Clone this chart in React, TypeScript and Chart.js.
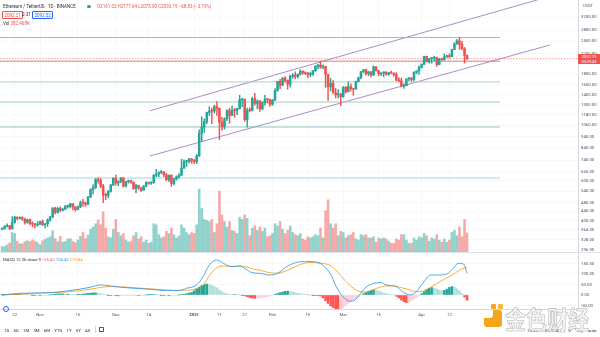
import React, { useEffect, useRef } from 'react';
import { Chart, registerables } from 'chart.js';
Chart.register(...registerables);

// day 0 = 2020-11-01, first candle = 2020-10-17
const FIRST_DAY = -15;
const FIRST_OPEN = 366;

const closes = [
  368,377,379,368,392,414,409,412,406,393,404,388,386,382,386,
  396,383,387,402,415,454,435,453,444,449,462,462,475,460,448,460,481,479,472,509,549,560,608,603,568,518,517,538,575,616,
  587,598,616,569,596,601,592,555,573,560,545,568,590,586,589,636,642,654,658,638,608,635,583,612,626,636,683,731,731,751,737,
  730,774,976,1042,1100,1208,1225,1224,1281,1262,1090,1043,1131,1230,1171,1233,1230,1257,1377,1382,1121,1236,1232,1391,1324,1357,1253,1332,1382,1377,1314,
  1370,1511,1660,1594,1718,1677,1613,1750,1768,1744,1784,1843,1814,1800,1779,1781,1848,1937,1960,1919,1935,1781,1570,1626,1475,1446,1459,1417,
  1564,1492,1576,1541,1533,1655,1724,1834,1868,1795,1826,1772,1924,1854,1792,1806,1823,1783,1811,1806,1783,1681,1668,1582,1587,1700,1715,1691,1820,1846,1918,
  1977,2143,2028,2093,2107,2117,1971,2088,2072,2136,2157,2139,2299,2432,2514,2422,2315,2161.02,2092.19
];
const highs = [
  371,380,387,381,417,418,415,416,416,410,406,406,395,389,396,
  398,403,389,407,418,457,459,458,460,454,467,470,477,476,460,465,489,497,483,512,553,576,615,620,615,580,528,545,579,620,
  636,600,622,622,598,605,605,594,580,575,560,572,596,592,595,640,676,658,667,659,649,638,640,616,632,647,749,745,740,755,755,
  748,787,1012,1155,1132,1212,1280,1262,1300,1349,1263,1150,1145,1245,1260,1290,1260,1260,1440,1395,1385,1262,1265,1412,1470,1375,1367,1350,1440,1390,1386,
  1380,1540,1663,1695,1725,1741,1685,1770,1800,1828,1795,1870,1847,1830,1820,1825,1859,1950,1975,2042,1965,1939,1785,1711,1672,1542,1525,1472,
  1575,1573,1650,1620,1545,1665,1735,1840,1875,1880,1845,1838,1945,1930,1860,1813,1835,1833,1820,1845,1812,1815,1726,1718,1620,1705,1730,1730,1833,1850,1947,
  1985,2150,2145,2100,2120,2150,2130,2100,2105,2200,2170,2200,2310,2468,2550,2600,2497,2345,2177.64
];
const lows = [
  363,366,375,364,366,389,403,406,401,385,389,383,374,371,377,
  383,380,371,376,397,411,428,431,437,441,446,454,455,446,440,446,456,462,463,470,505,524,555,586,560,480,495,505,535,572,
  574,570,589,564,562,586,585,550,531,550,538,544,566,580,578,585,627,626,646,627,600,595,567,576,604,616,633,683,695,720,718,
  715,715,770,897,985,1076,1170,1077,1200,1171,915,1005,1018,1111,1080,1170,1150,1180,1250,1282,1105,1039,1215,1226,1300,1255,1222,1240,1300,1330,1285,
  1300,1365,1500,1540,1592,1645,1530,1565,1716,1700,1715,1766,1780,1780,1720,1740,1763,1840,1887,1895,1886,1560,1365,1505,1470,1400,1400,1293,
  1411,1470,1491,1505,1440,1532,1650,1700,1815,1770,1760,1735,1762,1840,1760,1760,1740,1770,1765,1795,1750,1670,1652,1568,1545,1585,1670,1660,1668,1792,1782,
  1900,1970,2025,2000,2000,2050,1935,1965,2055,2060,2120,2110,2130,2295,2420,2300,2300,2000,2075
];
const volumesK = [
  250,260,330,420,900,850,500,380,380,480,520,480,560,500,430,
  340,520,580,640,700,980,620,480,720,460,480,600,620,500,430,550,720,900,620,780,1050,1150,1300,1480,1250,1850,1100,700,650,1050,
  1500,900,750,850,550,450,500,750,900,600,700,450,550,400,450,1300,1250,800,650,700,950,850,1100,800,650,750,1250,1100,900,800,900,
  850,1250,2900,2000,1500,1450,1400,1500,900,1300,2800,1700,1400,1150,1400,1000,950,850,1600,1500,1700,1550,750,1100,1200,1000,1150,950,1100,700,750,
  850,1300,1200,1400,1050,850,1000,1200,900,800,750,850,600,550,700,650,700,800,750,1100,650,1900,2400,1300,1100,1300,750,950,
  900,650,750,800,900,600,550,800,750,800,650,650,700,450,650,600,650,600,500,400,400,600,550,800,800,550,400,400,650,550,700,
  650,850,750,500,650,600,800,550,450,600,450,550,900,1000,750,1150,700,1500,880
];
const histogram = [
  1,1,2,2,3,4,4,4, 3,2,1,0,-1,-2,-2, -3,-3,-2,-1,0,2, 4,5,5,5,4,4,3, 2,1,1,2,4,6,8,9,
  10,10,9,6,3,1, -1,-2,-2,-3,-4,-4,-3, -3,-2,-2,-1,-1,-2,-2,-1,0, 1,2,2,1,0,-1,-2,-2,
  -3,-3,-2,-1,0,2,4, 6,9,12,20,30, 38,45,50,52,50,46, 40,34,24,16,10,6, 3,2,2,1,0,-1,
  -4,-8,-12,-15,-16,-15,-14,-12,-10,-8,-5,-2, 3,7,11,14,17,18,16,14,11, 8,6,4,2,1,0,-1,-2,
  -3,-5,-14,-28,-40,-52, -60,-68,-71,-68,-60,-50, -40,-32,-24,-16,-8,-2, 6,12,18,22,24,22,
  18,14,10,7,4,2,0, -6,-14,-24,-32,-37,-34,-28, -20,-12,-4,6, 16,26,32,35,33,28, 24,20,22,28,36,
  40,38,30,20,8, -10,-25
];
const macdDays = [-15,-8,4,11,20,24,28,32,37,44,50,55,58,62,64.5,67,70,72.5,76,79,82,84,87,91,94,98,103,107,111,113,115,117,119,121,123,125,127,129,132,135,137,141,143.5,146.5,148.5,151.5,154.5,157,161,163.5,165.5,167.5,169];
const macdVals = [0,8,11,20,37,48,43,37,32,27,21,21,32,48,87,143,167,151,135,138,119,106,103,95,103,138,158,159,150,130,100,45,5,-20,-30,-20,10,38,55,59,48,40,16,0,11,56,95,95,100,127,151,148,104];
const signalDays = [-15,-8,4,11,20,24,28,32,37,44,50,55,58,62,64.5,67,70,72.5,76,79,82,84,87,91,94,98,103,107,111,113,115,117,119,121,123,125,127,129,131,134,137,140,143,146,149,151,154,157,160,163,166,168,169];
const signalVals = [0,4,11,15,28,36,40,39,35,29,24,22,23,30,45,92,130,138,136,137,133,125,118,106,104,118,145,155,152,148,140,120,92,65,42,25,15,14,22,35,43,43,35,25,16,17,33,55,75,95,118,129,130];

const priceTicks = [3200,2800,2500,2200,1800,1600,1450,1300,1180,1060,940,840,740,660,600,540,480,440,400,364,328,296];
const macdTicks = [150,100,50,0,-50];
const timeTickDays = [-10,0,15,30,43,61,71,81,92,106,120,134,151,162];
const timeTickLabels = ['22','Nov','16','Dec','14','2021','11','21','Feb','15','Mar','15','Apr','12'];

const levelPrices = [2600, 2040, 1650, 1344, 1041, 618];
const levelFromDay = -16;
const levelToDay = 182;
const lastPrice = 2092.19;
const channelUpper = [{ day: 43.5, price: 1229 }, { day: 197.9, price: 3850 }];
const channelLower = [{ day: 43.5, price: 774 }, { day: 201.8, price: 2408 }];

// ---- styling ----
const FONT = 'Roboto, "Liberation Sans", Arial, sans-serif';
const UP = '#26a69a';
const DOWN = '#ef5350';
const levelColors = ['#a8a8a8', '#ef6461', '#a3c9b6', '#9cc6b1', '#7cbdb3', '#92d0dc'];
const X_MIN = -15.83;
const X_MAX = 212.9;
const AXIS_W = 22;
const GRID = '#f7f8fa';
const TICK_COLOR = '#4c525e';

const days = closes.map((_, i) => FIRST_DAY + i);
const opens = closes.map((_, i) => (i === 0 ? FIRST_OPEN : closes[i - 1]));
const isUp = closes.map((c, i) => c >= opens[i]);

function setTicks(values: number[]) {
  return (s: any) => { s.ticks = values.map((v) => ({ value: v })); };
}

export default function App() {
  const mainRef = useRef<HTMLCanvasElement>(null);
  const macdRef = useRef<HTMLCanvasElement>(null);

  useEffect(() => {
    const charts: Chart[] = [];
    const line = (pts: { x: number; y: number }[], color: string, width: number, dash: number[] = []) => ({
      type: 'line' as const,
      data: pts,
      borderColor: color,
      borderWidth: width,
      borderDash: dash,
      pointRadius: 0,
      fill: false,
      tension: 0,
      yAxisID: 'y',
      order: 5,
    });

    const xScaleBase = {
      type: 'linear' as const,
      min: X_MIN,
      max: X_MAX,
      offset: false,
      afterBuildTicks: setTicks(timeTickDays),
    };

    if (mainRef.current) {
      const datasets: any[] = [
        {
          type: 'bar',
          yAxisID: 'yVol',
          data: days.map((d, i) => ({ x: d, y: volumesK[i] })),
          backgroundColor: isUp.map((u) => (u ? 'rgba(38,166,154,0.5)' : 'rgba(239,83,80,0.5)')),
          barThickness: 1.9,
          grouped: false,
          order: 10,
        },
        ...levelPrices.map((p, i) => line([{ x: levelFromDay, y: p }, { x: levelToDay, y: p }], levelColors[i], 0.9)),
        line([{ x: X_MIN, y: lastPrice }, { x: X_MAX, y: lastPrice }], 'rgba(239,83,80,0.75)', 0.8, [1.5, 1.5]),
        line(channelUpper.map((p) => ({ x: p.day, y: p.price })), '#a27fc6', 0.9),
        line(channelLower.map((p) => ({ x: p.day, y: p.price })), '#a27fc6', 0.9),
        {
          type: 'bar',
          yAxisID: 'y',
          data: days.map((d, i) => ({ x: d, y: [lows[i], highs[i]] })),
          backgroundColor: isUp.map((u) => (u ? UP : DOWN)),
          barThickness: 0.8,
          grouped: false,
          order: 2,
        },
        {
          type: 'bar',
          yAxisID: 'y',
          data: days.map((d, i) => ({ x: d, y: [opens[i], closes[i]] })),
          backgroundColor: isUp.map((u) => (u ? UP : DOWN)),
          barThickness: 1.9,
          minBarLength: 1,
          grouped: false,
          order: 1,
        },
      ];
      charts.push(new Chart(mainRef.current, {
        type: 'bar',
        data: { datasets },
        options: {
          animation: false,
          responsive: false,
          events: [],
          layout: { padding: 0 },
          plugins: { legend: { display: false }, tooltip: { enabled: false } },
          scales: {
            x: {
              ...xScaleBase,
              ticks: { display: false },
              grid: { color: GRID, drawTicks: false, offset: false },
              border: { display: false },
              afterFit: (s: any) => { s.height = 0; s.paddingLeft = 0; s.paddingRight = 0; },
            },
            y: {
              type: 'logarithmic',
              position: 'right',
              min: 290,
              max: 3814,
              afterBuildTicks: setTicks(priceTicks),
              ticks: {
                autoSkip: false,
                padding: 3,
                color: TICK_COLOR,
                font: { size: 4.3, family: FONT },
                callback: (v: any) => Number(v).toFixed(2),
              },
              grid: { color: GRID, drawTicks: false },
              border: { display: true, color: '#d6d8de', width: 1 },
              afterFit: (s: any) => { s.width = AXIS_W; s.paddingTop = 0; s.paddingBottom = 0; },
            },
            yVol: { type: 'linear', display: false, min: 0, max: 11600 },
          } as any,
        },
      } as any));
    }

    if (macdRef.current) {
      const histColors = histogram.map((h, i) => {
        const prev = i > 0 ? histogram[i - 1] : 0;
        if (h >= 0) return h >= prev ? UP : '#b2dfdb';
        return h < prev ? '#ff5252' : '#ffcdd2';
      });
      charts.push(new Chart(macdRef.current, {
        type: 'bar',
        data: {
          datasets: [
            {
              type: 'bar',
              data: days.map((d, i) => ({ x: d, y: histogram[i] })),
              backgroundColor: histColors,
              barThickness: 1.9,
              grouped: false,
              order: 3,
            },
            {
              type: 'line',
              data: macdDays.map((d, i) => ({ x: d, y: macdVals[i] })),
              borderColor: '#2196f3',
              borderWidth: 0.8,
              pointRadius: 0,
              cubicInterpolationMode: 'monotone',
              order: 1,
            },
            {
              type: 'line',
              data: signalDays.map((d, i) => ({ x: d, y: signalVals[i] })),
              borderColor: '#ff9800',
              borderWidth: 0.8,
              pointRadius: 0,
              cubicInterpolationMode: 'monotone',
              order: 2,
            },
          ],
        },
        options: {
          animation: false,
          responsive: false,
          events: [],
          layout: { padding: { top: 1, left: 0, right: 0, bottom: 0 } },
          plugins: { legend: { display: false }, tooltip: { enabled: false } },
          scales: {
            x: {
              ...xScaleBase,
              ticks: {
                autoSkip: false,
                maxRotation: 0,
                padding: 3,
                color: TICK_COLOR,
                font: (ctx: any) => ({ size: 4.3, family: FONT, weight: ctx.tick && ctx.tick.label === '2021' ? 'bold' : 'normal' }),
                callback: (v: any) => {
                  const i = timeTickDays.indexOf(Number(v));
                  return i >= 0 ? timeTickLabels[i] : '';
                },
              },
              grid: { color: GRID, drawTicks: false, offset: false },
              border: { display: true, color: '#d6d8de' },
              afterFit: (s: any) => { s.height = 13; s.paddingLeft = 0; s.paddingRight = 0; },
            },
            y: {
              type: 'linear',
              position: 'right',
              min: -66.7,
              max: 200,
              afterBuildTicks: setTicks(macdTicks),
              ticks: {
                autoSkip: false,
                padding: 3,
                color: TICK_COLOR,
                font: { size: 4.3, family: FONT },
                callback: (v: any) => Number(v).toFixed(2),
              },
              grid: { color: GRID, drawTicks: false },
              border: { display: true, color: '#d6d8de' },
              afterFit: (s: any) => { s.width = AXIS_W; s.paddingTop = 0; s.paddingBottom = 0; },
            },
          } as any,
        },
      } as any));
    }

    return () => charts.forEach((c) => c.destroy());
  }, []);

  const txt = (extra: React.CSSProperties): React.CSSProperties => ({
    position: 'absolute',
    fontSize: 4.5,
    lineHeight: '5px',
    whiteSpace: 'nowrap',
    color: '#131722',
    ...extra,
  });

  return (
    <div style={{ position: 'fixed', left: 0, top: 0, width: 600, height: 337, background: '#fff', overflow: 'hidden', fontFamily: FONT }}>
      <canvas ref={mainRef} width={600} height={252} style={{ position: 'absolute', left: 0, top: 0, width: 600, height: 252 }} />
      <canvas ref={macdRef} width={600} height={70} style={{ position: 'absolute', left: 0, top: 252, width: 600, height: 70 }} />
      <div style={{ position: 'absolute', left: 0, top: 252, width: 600, height: 1, background: '#e0e3eb' }} />

      {/* header */}
      <div style={txt({ left: 3, top: 4, color: '#2a2e39' })}>Ethereum / TetherUS · 1D · BINANCE</div>
      <div style={{ position: 'absolute', left: 87, top: 4.5, width: 3.5, height: 3.5, borderRadius: 2, background: '#26a69a' }} />
      <div style={txt({ left: 97, top: 4, color: DOWN })}>O2161.02 H2177.64 L2075.00 C2092.19 −68.83 (−3.19%)</div>
      <div style={txt({ left: 2, top: 11, color: DOWN, border: '0.6px solid #ef5350', padding: '0.5px 1.5px', borderRadius: 1 })}>2092.21</div>
      <div style={txt({ left: 22, top: 11.6, color: '#2a2e39' })}>0.31</div>
      <div style={txt({ left: 32, top: 11, color: '#2962ff', border: '0.6px solid #2962ff', padding: '0.5px 1.5px', borderRadius: 1 })}>2092.52</div>
      <div style={txt({ left: 3, top: 21, color: '#2a2e39' })}>Vol <span style={{ color: DOWN }}>382.468K</span></div>

      {/* price axis extras */}
      <div style={txt({ left: 583, top: 3, color: '#4c525e', fontSize: 4 })}>USDT</div>
      <div style={{ position: 'absolute', left: 578, top: 53.5, width: 22, height: 10.5, background: '#ef5350', color: '#fff', fontSize: 3.9, lineHeight: '5px', textAlign: 'center', paddingTop: 0.3 }}>
        2092.19<br />00:09:43
      </div>

      {/* MACD legend */}
      <div style={txt({ left: 3, top: 257, color: '#2a2e39', fontSize: 4.2 })}>
        MACD 12 26 close 9 <span style={{ color: DOWN }}>−25.42</span> <span style={{ color: '#2196f3' }}>104.42</span> <span style={{ color: '#ff9800' }}>129.84</span>
      </div>
      <div style={{ position: 'absolute', left: 3, top: 306, width: 6, height: 6, borderRadius: 4, border: '0.8px solid #2962ff', boxSizing: 'border-box' }} />

      {/* bottom toolbar */}
      <div style={txt({ left: 4, top: 327.5, color: '#2a2e39', fontSize: 4.3, wordSpacing: 3.2 })}>1D 5D 1M 3M 6M YTD 1Y 5Y All</div>
      <div style={{ position: 'absolute', left: 95, top: 326, width: 0.6, height: 7, background: '#d6d8de' }} />
      <div style={{ position: 'absolute', left: 99, top: 327, width: 4.5, height: 4.5, border: '0.6px solid #555', borderRadius: 0.8, boxSizing: 'border-box' }} />
      <div style={txt({ left: 527, top: 327.5, color: '#2a2e39', fontSize: 4.3 })}>15:50:17 (UTC-8)</div>
      <div style={{ position: 'absolute', left: 564, top: 326, width: 0.6, height: 7, background: '#d6d8de' }} />
      <div style={txt({ left: 568, top: 327.5, color: '#2a2e39', fontSize: 4.3 })}>%</div>
      <div style={txt({ left: 577, top: 327.5, color: '#2962ff', fontSize: 4.3 })}>log</div>
      <div style={txt({ left: 588, top: 327.5, color: '#2a2e39', fontSize: 4.3 })}>auto</div>

      {/* watermark */}
      <div style={{ position: 'absolute', left: 491, top: 304, width: 5, height: 5, background: '#f4a51c', borderRadius: 1 }} />
      <div style={{ position: 'absolute', left: 497.5, top: 304, width: 5, height: 5, background: '#f7b733', borderRadius: 1 }} />
      <div style={{ position: 'absolute', left: 484, top: 310, width: 18, height: 17, background: '#f4a51c', borderRadius: 3 }} />
      <div style={{ position: 'absolute', left: 484, top: 310, width: 9, height: 8, background: '#fff', borderRadius: '0 0 3px 0' }} />
      <div style={{
        position: 'absolute', left: 505, top: 300, fontSize: 21, lineHeight: '30px', whiteSpace: 'nowrap',
        fontFamily: '"Noto Sans CJK SC", sans-serif', fontWeight: 700, color: 'rgba(244,244,244,0.88)',
        WebkitTextStroke: '0.5px #b4b4b4', letterSpacing: 0, transform: 'scaleY(1.2)', transformOrigin: 'top left',
      } as React.CSSProperties}>金色财经</div>
    </div>
  );
}
